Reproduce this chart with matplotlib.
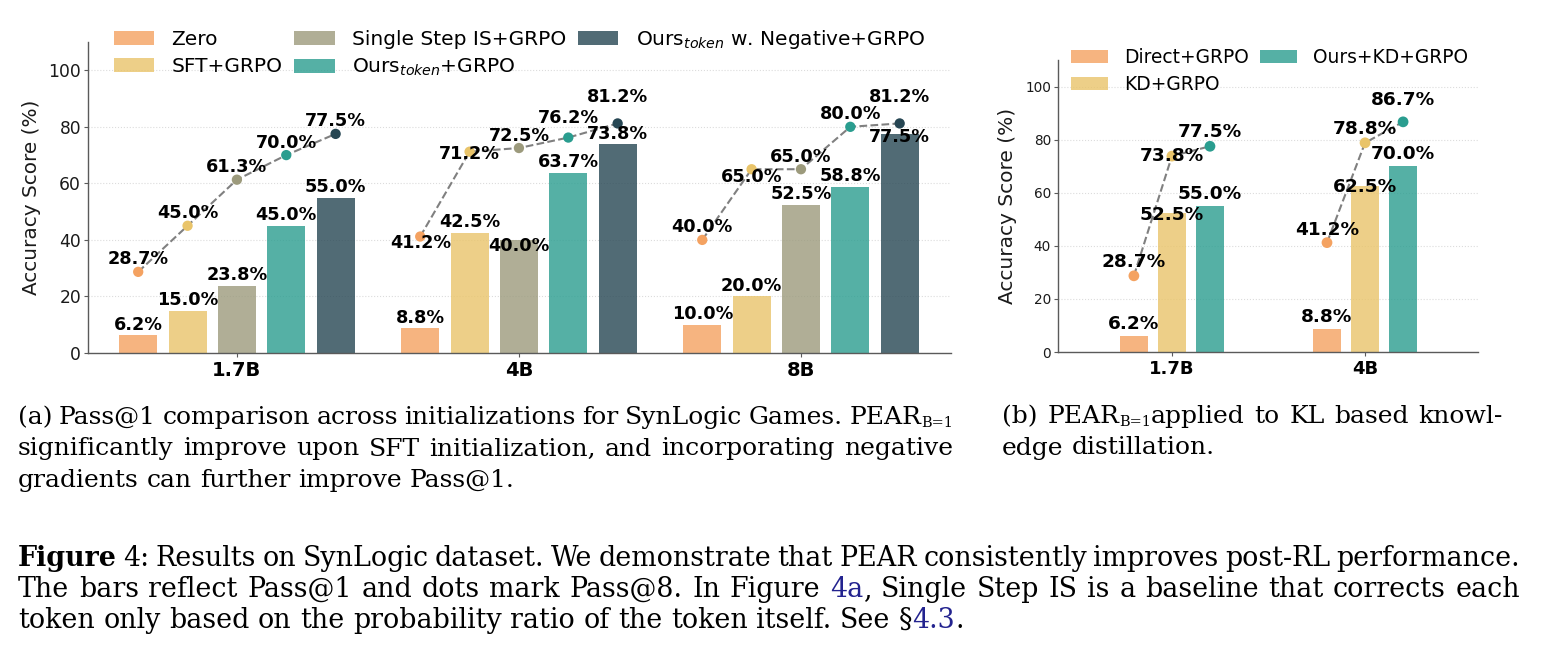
import matplotlib
matplotlib.use("Agg")
import matplotlib.pyplot as plt
import numpy as np

# ---------------- data ----------------
groups_a = ["1.7B", "4B", "8B"]
series_a = ["Zero", "SFT+GRPO", "Single Step IS+GRPO",
            r"Ours$_{token}$+GRPO", r"Ours$_{token}$ w. Negative+GRPO"]
pass1_zero = [6.2, 8.8, 10.0]
pass1_sft = [15.0, 42.5, 20.0]
pass1_single = [23.8, 40.0, 52.5]
pass1_ours = [45.0, 63.7, 58.8]
pass1_neg = [55.0, 73.8, 77.5]
pass8_zero = [28.7, 41.2, 40.0]
pass8_sft = [45.0, 71.2, 65.0]
pass8_single = [61.3, 72.5, 65.0]
pass8_ours = [70.0, 76.2, 80.0]
pass8_neg = [77.5, 81.2, 81.2]

groups_b = ["1.7B", "4B"]
series_b = ["Direct+GRPO", "KD+GRPO", "Ours+KD+GRPO"]
pass1_direct = [6.2, 8.8]
pass1_kd = [52.5, 62.5]
pass1_ourskd = [55.0, 70.0]
pass8_direct = [28.7, 41.2]
pass8_kd = [73.8, 78.8]
pass8_ourskd = [77.5, 86.7]

yticks = [0, 20, 40, 60, 80, 100]

# ---------------- style ----------------
colors_a = ["#f4a261", "#e9c46a", "#9c9a7c", "#2a9d8f", "#264653"]
colors_b = ["#f4a261", "#e9c46a", "#2a9d8f"]
# label offsets (pixels, text centre relative to the mark), series x group
bar_dy_a = [[10.5, 10.5, 10.5], [10.5, 10.5, 10.5], [10.5, -6, 10.5],
            [10.5, 10.5, 10.5], [10.5, 10.5, -3]]
dot_dy_a = [[12.5, -6, 12.5], [12.5, -2, -8], [12.5, 12, 12.5],
            [12.5, 20, 12.5], [12.5, 26, 26]]
bar_dy_b = [[12, 12], [-2, -1], [12, 12]]
dot_dy_b = [[14, 13], [0, 14], [14, 22]]

W, H = 1551, 670
fig = plt.figure(figsize=(W / 100, H / 100), dpi=100)


def style_axes(ax, ylab_size, ytick_size, xtick_size, labelpad):
    ax.set_ylim(0, 110)
    ax.set_yticks(yticks)
    ax.spines["top"].set_visible(False)
    ax.spines["right"].set_visible(False)
    for s in ("left", "bottom"):
        ax.spines[s].set_color("#5a5a5a")
        ax.spines[s].set_linewidth(1.0)
    ax.yaxis.grid(True, linestyle=":", color="#dcdcdc", linewidth=0.8)
    ax.set_axisbelow(True)
    ax.tick_params(axis="y", labelsize=ytick_size, length=3, pad=2,
                   color="#5a5a5a", labelcolor="#1a1a1a")
    ax.tick_params(axis="x", labelsize=xtick_size, length=3, pad=3,
                   color="#5a5a5a")
    for lab in ax.get_xticklabels():
        lab.set_fontweight("bold")
    ax.set_ylabel("Accuracy Score (%)", fontsize=ylab_size, labelpad=labelpad,
                  color="#1a1a1a")


def draw_panel(ax, groups, names, p1, p8, colors, bw, step, bar_dy, dot_dy, fs):
    x = np.arange(len(groups))
    n = len(names)
    offs = (np.arange(n) - (n - 1) / 2) * step
    for i in range(n):
        xs = x + offs[i]
        ax.bar(xs, p1[i], bw, color=colors[i], alpha=0.8, label=names[i],
               zorder=2, linewidth=0)
        for g in range(len(groups)):
            ax.annotate(f"{p1[i][g]:.1f}%", (xs[g], p1[i][g]),
                        xytext=(0, bar_dy[i][g]), textcoords="offset pixels",
                        ha="center", va="center", fontsize=fs,
                        fontweight="bold", zorder=6)
    for g in range(len(groups)):
        xs = g + offs
        ys = [p8[i][g] for i in range(n)]
        ax.plot(xs, ys, linestyle="--", color="#808080", linewidth=1.5,
                zorder=3)
        ax.scatter(xs, ys, c=colors, s=55 if fs < 13 else 60, zorder=4,
                   linewidths=0)
        for i in range(n):
            ax.annotate(f"{ys[i]:.1f}%", (xs[i], ys[i]),
                        xytext=(0, dot_dy[i][g]), textcoords="offset pixels",
                        ha="center", va="center", fontsize=fs,
                        fontweight="bold", zorder=6)
    ax.set_xticks(x)
    ax.set_xticklabels(groups)


# ---- panel (a) ----
ax1 = fig.add_axes([88 / W, 1 - 353 / H, 863 / W, 311 / H])
draw_panel(ax1, groups_a, series_a,
           [pass1_zero, pass1_sft, pass1_single, pass1_ours, pass1_neg],
           [pass8_zero, pass8_sft, pass8_single, pass8_ours, pass8_neg],
           colors_a, 0.135, 0.175, bar_dy_a, dot_dy_a, 12.7)
ax1.set_xlim(-0.528, 2.532)
style_axes(ax1, 14.4, 12.3, 14, 5)
ax1.legend(loc="upper left", bbox_to_anchor=(114 / W, 1 - 28 / H),
           bbox_transform=fig.transFigure, ncol=3, frameon=False,
           fontsize=14.5, handlelength=2.0, handleheight=0.7,
           handletextpad=0.85, columnspacing=0.6, labelspacing=0.4,
           borderpad=0, borderaxespad=0)

# ---- panel (b) ----
ax2 = fig.add_axes([1058 / W, 1 - 352 / H, 420 / W, 292 / H])
draw_panel(ax2, groups_b, series_b,
           [pass1_direct, pass1_kd, pass1_ourskd],
           [pass8_direct, pass8_kd, pass8_ourskd],
           colors_b, 0.147, 0.197, bar_dy_b, dot_dy_b, 13.3)
ax2.set_xlim(-0.59, 1.585)
style_axes(ax2, 14.5, 9.8, 13, 6)
ax2.legend(loc="upper left", bbox_to_anchor=(1071 / W, 1 - 48 / H),
           bbox_transform=fig.transFigure, ncol=2, frameon=False,
           fontsize=13.4, handlelength=2.0, handleheight=0.7,
           handletextpad=0.86, columnspacing=0.6, labelspacing=0.45,
           borderpad=0, borderaxespad=0)

# ---------------- captions ----------------
renderer = fig.canvas.get_renderer()
SUB = {"size": 10.5, "dy": 3}
BLUE = {"color": "#23238f"}
BOLD = {"weight": "bold"}


def _kw(extra, size):
    d = dict(family="DejaVu Serif", size=size, color="black")
    d.update({k: v for k, v in extra.items() if k != "dy"})
    return d


def measure(text, extra, size):
    t = fig.text(0, 0, text, **_kw(extra, size))
    w = t.get_window_extent(renderer).width
    t.remove()
    return w


def words(s):
    return [[(w, {})] for w in s.split(" ")]


def place_line(ws, x0, x1, y, justify, size):
    widths = [[measure(t, e, size) for t, e in word] for word in ws]
    totals = [sum(w) for w in widths]
    space = measure("a a", {}, size) - measure("aa", {}, size)
    if justify and len(ws) > 1:
        gap = (x1 - x0 - sum(totals)) / (len(ws) - 1)
    else:
        gap = space
    cx = x0
    for word, wl in zip(ws, widths):
        for (t, e), w in zip(word, wl):
            yy = y + e.get("dy", 0)
            fig.text(cx / W, 1 - yy / H, t, ha="left", va="baseline",
                     **_kw(e, size))
            cx += w
        cx += gap


def place_par(lines, x0, x1, y0, pitch, size):
    for k, ln in enumerate(lines):
        place_line(ln, x0, x1, y0 + k * pitch, k < len(lines) - 1, size)


cap_a = [
    words("(a) Pass@1 comparison across initializations for SynLogic Games.")
    + [[("PEAR", {}), ("B=1", SUB)]],
    words("significantly improve upon SFT initialization, and incorporating negative"),
    words("gradients can further improve Pass@1."),
]
cap_b = [
    words("(b)") + [[("PEAR", {}), ("B=1", SUB), ("applied", {})]]
    + words("to KL based knowl-"),
    words("edge distillation."),
]
cap_main = [
    [[("Figure", BOLD)], [("4:", {})]]
    + words("Results on SynLogic dataset. We demonstrate that PEAR consistently improves post-RL performance."),
    words("The bars reflect Pass@1 and dots mark Pass@8. In Figure")
    + [[("4a", BLUE), (",", {})]]
    + words("Single Step IS is a baseline that corrects each"),
    words("token only based on the probability ratio of the token itself. See")
    + [[("§", {}), ("4.3", BLUE), (".", {})]],
]

place_par(cap_a, 18, 953, 424, 31.5, 18.0)
place_par(cap_b, 1002, 1503, 423, 31.5, 18.0)
place_par(cap_main, 18, 1520, 566, 31, 19.4)

fig.savefig("out.png", dpi=100)
